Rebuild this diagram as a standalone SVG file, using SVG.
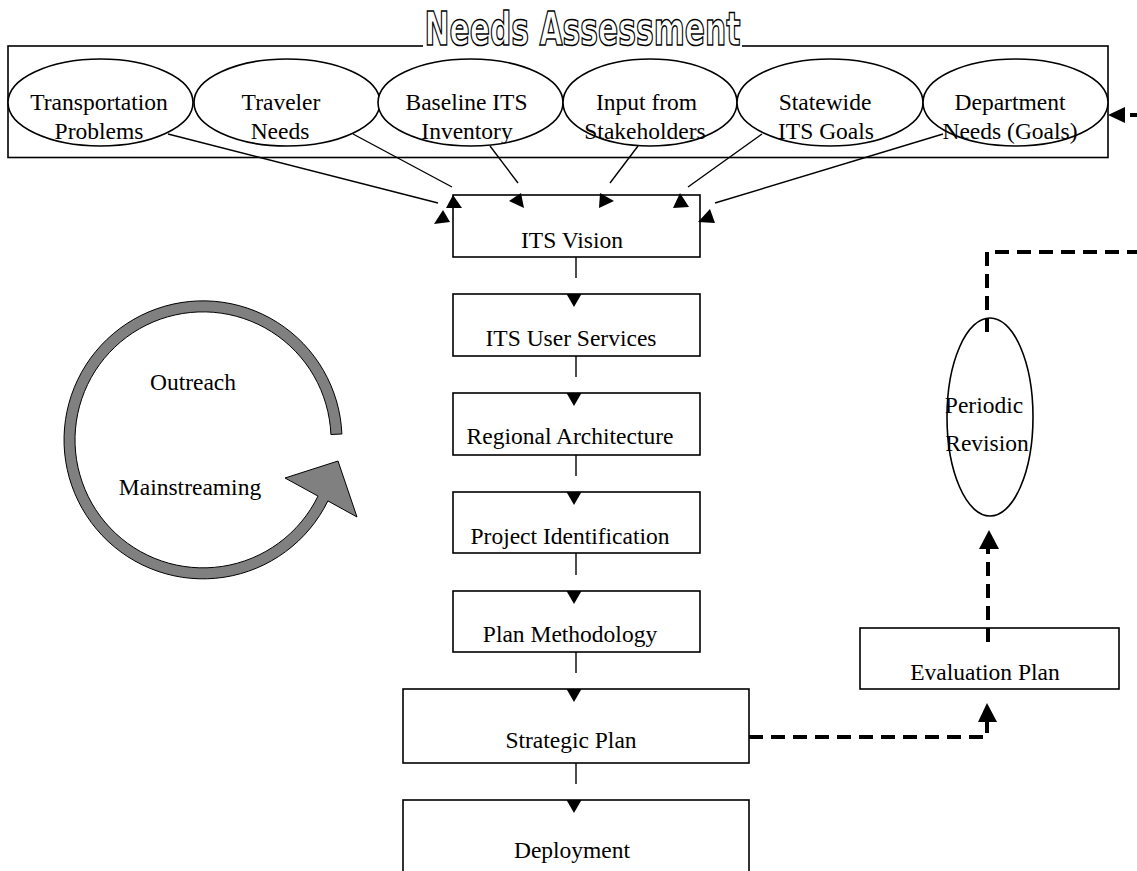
<svg xmlns="http://www.w3.org/2000/svg" width="1137" height="871" viewBox="0 0 1137 871">
<style>
  .t { font-family: "Liberation Serif", "Times New Roman", serif; font-size: 23.5px; fill: #000; text-anchor: middle; }
  .box { fill: #fff; stroke: #000; stroke-width: 1.6; }
  .ell { fill: #fff; stroke: #000; stroke-width: 1.6; }
  .ln { stroke: #000; stroke-width: 1.4; fill: none; }
  .dash { stroke: #000; stroke-width: 4; fill: none; stroke-dasharray: 14 8; }
  .ah { fill: #000; stroke: none; }
</style>
<rect x="0" y="0" width="1137" height="871" fill="#fff"/>

<g id="needs-assessment">
  <rect class="box" x="8" y="46" width="1100" height="111.5"/>
  <rect x="423" y="0" width="319" height="48" fill="#fff"/>
  <text x="582.5" y="45" font-family="'Liberation Sans Narrow', 'DejaVu Sans Condensed', sans-serif" font-weight="bold" font-size="47" fill="#fff" stroke="#000" stroke-width="1.5" text-anchor="middle" textLength="316" lengthAdjust="spacingAndGlyphs">Needs Assessment</text>
</g>

<g id="transportation-problems">
  <ellipse class="ell" cx="100.5" cy="102.5" rx="92.5" ry="43.5"/>
  <text class="t" x="99" y="110">Transportation</text>
  <text class="t" x="99" y="139">Problems</text>
</g>
<g id="traveler-needs">
  <ellipse class="ell" cx="287" cy="102.5" rx="93" ry="43.5"/>
  <text class="t" x="281" y="110">Traveler</text>
  <text class="t" x="280" y="139">Needs</text>
</g>
<g id="baseline-its">
  <ellipse class="ell" cx="470.5" cy="102.5" rx="92.5" ry="43.5"/>
  <text class="t" x="466.5" y="110">Baseline ITS</text>
  <text class="t" x="467" y="139">Inventory</text>
</g>
<g id="input-stakeholders">
  <ellipse class="ell" cx="650" cy="102.5" rx="87" ry="43.5"/>
  <text class="t" x="646.5" y="110">Input from</text>
  <text class="t" x="645" y="139">Stakeholders</text>
</g>
<g id="statewide-goals">
  <ellipse class="ell" cx="830" cy="102.5" rx="93" ry="43.5"/>
  <text class="t" x="825" y="110">Statewide</text>
  <text class="t" x="826" y="139">ITS Goals</text>
</g>
<g id="department-needs">
  <ellipse class="ell" cx="1015.5" cy="102.5" rx="92.5" ry="43.5"/>
  <text class="t" x="1010" y="110">Department</text>
  <text class="t" x="1010" y="139">Needs (Goals)</text>
</g>

<g id="its-vision">
  <rect class="box" x="453" y="195" width="247" height="62"/>
  <text class="t" x="572" y="248">ITS Vision</text>
</g>
<g id="its-user-services">
  <rect class="box" x="453" y="294" width="247" height="62"/>
  <text class="t" x="571" y="346">ITS User Services</text>
</g>
<g id="regional-architecture">
  <rect class="box" x="453" y="393" width="247" height="62"/>
  <text class="t" x="570" y="444">Regional Architecture</text>
</g>
<g id="project-identification">
  <rect class="box" x="453" y="492" width="247" height="61"/>
  <text class="t" x="570" y="544">Project Identification</text>
</g>
<g id="plan-methodology">
  <rect class="box" x="453" y="591" width="247" height="61"/>
  <text class="t" x="570" y="642">Plan Methodology</text>
</g>
<g id="strategic-plan">
  <rect class="box" x="403" y="689" width="346" height="74"/>
  <text class="t" x="571" y="748">Strategic Plan</text>
</g>
<g id="deployment">
  <rect class="box" x="403" y="800" width="346" height="90"/>
  <text class="t" x="572" y="858">Deployment</text>
</g>

<g id="evaluation-plan">
  <rect class="box" x="860" y="628" width="259" height="61"/>
  <text class="t" x="985" y="680">Evaluation Plan</text>
</g>
<g id="periodic-revision">
  <ellipse class="ell" cx="990" cy="417" rx="43" ry="99"/>
  <text class="t" x="984" y="413">Periodic</text>
  <text class="t" x="987" y="451">Revision</text>
</g>

<g id="outreach-cycle">
  <path d="M341.9,434 A139,139 0 1 0 327.9,500.9 L357,517 L338,461 L285,478 L318,496.1 A128,128 0 1 1 330.9,434.5 Z" fill="#808080" stroke="#000" stroke-width="1"/>
  <text class="t" x="193" y="390">Outreach</text>
  <text class="t" x="190" y="495">Mainstreaming</text>
</g>

<g id="connectors">
  <line class="ln" x1="168" y1="134" x2="438" y2="203"/>
  <line class="ln" x1="353" y1="134" x2="452" y2="187"/>
  <line class="ln" x1="490" y1="146" x2="518" y2="183"/>
  <line class="ln" x1="638" y1="146" x2="610" y2="183"/>
  <line class="ln" x1="762" y1="134" x2="688" y2="187"/>
  <line class="ln" x1="943" y1="134" x2="715" y2="203"/>
  <polygon class="ah" points="443,210 450,222 434,224"/>
  <polygon class="ah" points="453,195 446,208 462,208"/>
  <polygon class="ah" points="509,201 521,193 524,208"/>
  <polygon class="ah" points="600,193 614,201 599,208"/>
  <polygon class="ah" points="680,193 689,207 673,208"/>
  <polygon class="ah" points="710,209 715,223 698,222"/>

  <line class="ln" x1="576" y1="257" x2="576" y2="278"/>
  <polygon class="ah" points="566.5,294 581.5,294 574,307"/>
  <line class="ln" x1="576" y1="356" x2="576" y2="377"/>
  <polygon class="ah" points="566.5,393 581.5,393 574,406"/>
  <line class="ln" x1="576" y1="455" x2="576" y2="476"/>
  <polygon class="ah" points="566.5,492 581.5,492 574,505"/>
  <line class="ln" x1="576" y1="553" x2="576" y2="575"/>
  <polygon class="ah" points="566.5,591 581.5,591 574,604"/>
  <line class="ln" x1="576" y1="652" x2="576" y2="673"/>
  <polygon class="ah" points="566.5,689 581.5,689 574,702"/>
  <line class="ln" x1="576" y1="763" x2="576" y2="784"/>
  <polygon class="ah" points="566.5,800 581.5,800 574,813"/>

  <path class="dash" d="M749,737 H987 V722"/>
  <polygon class="ah" points="987,703 978,722 997,722"/>
  <path class="dash" d="M988,642 V549"/>
  <polygon class="ah" points="989,530 979,549 999,549"/>
  <path class="dash" d="M987,332 V252 H1137"/>
  <line class="dash" x1="1130" y1="115" x2="1137" y2="115"/>
  <polygon class="ah" points="1108,115 1125,107 1125,123"/>
</g>
</svg>
